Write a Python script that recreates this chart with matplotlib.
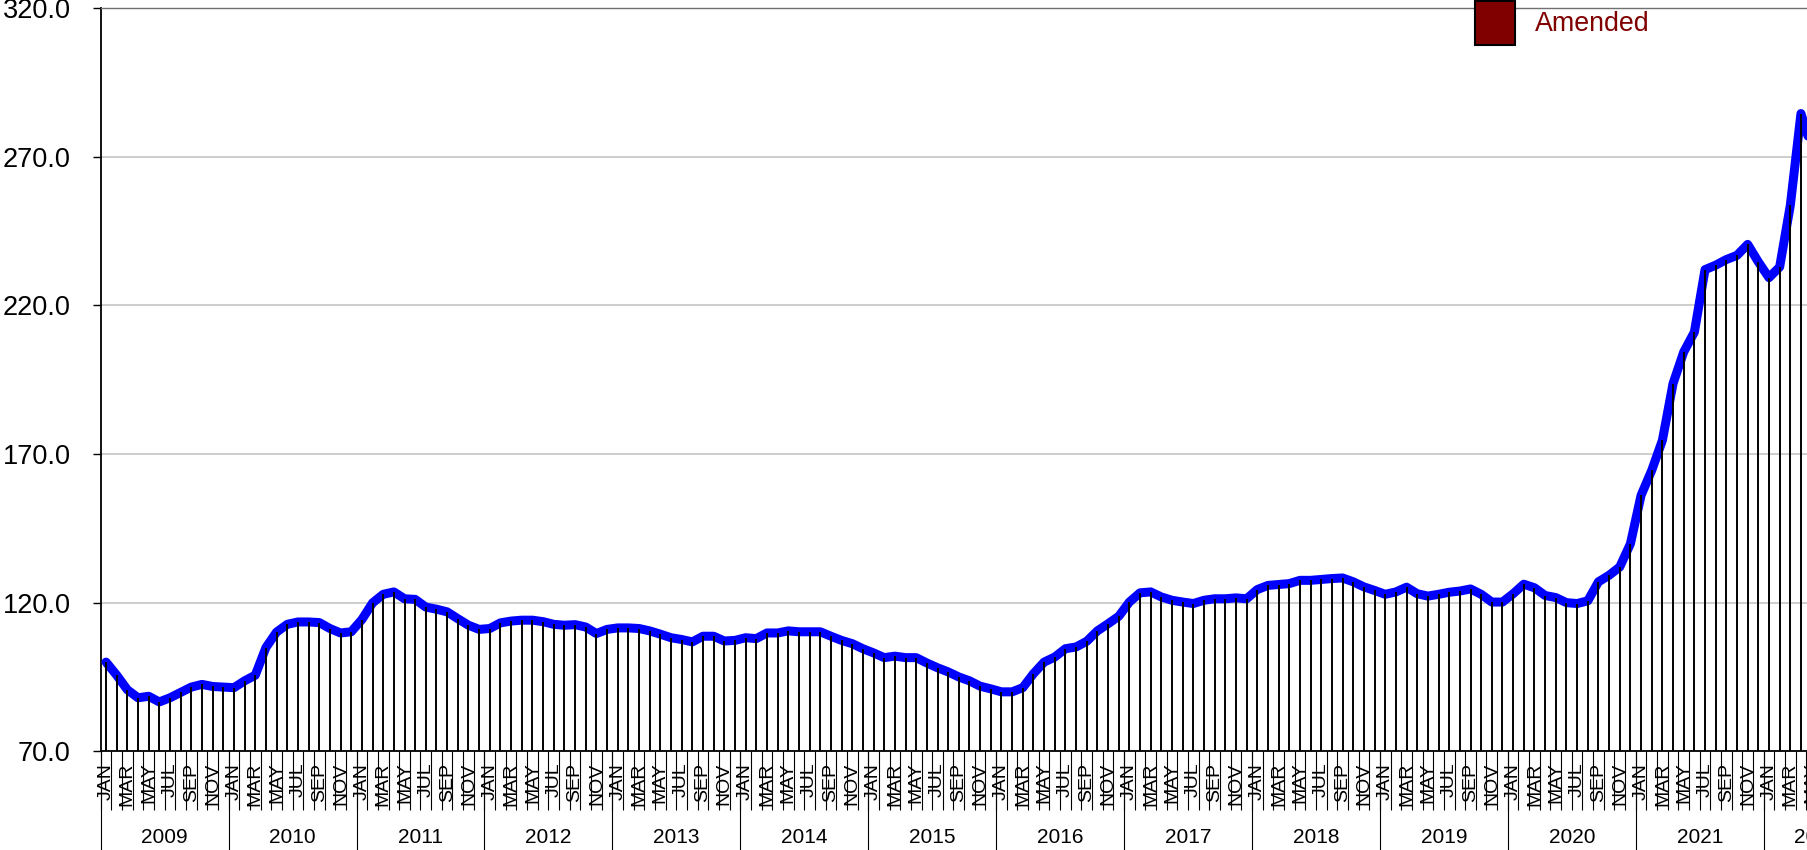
#!/usr/bin/env python3
"""
Monthly index, Jan 2009 - May 2022, blue line with drop lines,
two-level category axis (months / years). Output: out.png
"""
import matplotlib
matplotlib.use("Agg")
import matplotlib.pyplot as plt
from matplotlib.patches import Patch
import numpy as np

plt.rcParams["font.family"] = ["Liberation Sans", "DejaVu Sans"]

MONTHS = ["JAN", "FEB", "MAR", "APR", "MAY", "JUN",
          "JUL", "AUG", "SEP", "OCT", "NOV", "DEC"]
YEARS = list(range(2009, 2023))
N_CATS = 166          # category axis runs Jan 2009 .. Oct 2022 (cropped at right)

v2009 = [100.0, 95.6, 90.7, 88.0, 88.5, 86.6, 88.0, 89.8, 91.6, 92.5, 91.8, 91.6]
v2010 = [91.4, 93.7, 95.6, 104.9, 110.1, 112.7, 113.5, 113.5, 113.3, 111.3, 109.8, 110.2]
v2011 = [114.3, 119.9, 122.8, 123.6, 121.3, 121.1, 118.5, 117.8, 116.9, 114.6, 112.4, 111.0]
v2012 = [111.3, 113.2, 113.8, 114.1, 114.1, 113.6, 112.7, 112.4, 112.6, 111.8, 109.6, 111.0]
v2013 = [111.5, 111.5, 111.3, 110.5, 109.4, 108.2, 107.6, 106.8, 108.7, 108.7, 107.1, 107.3]
v2014 = [108.2, 107.9, 109.8, 109.8, 110.5, 110.2, 110.2, 110.2, 108.7, 107.3, 106.2, 104.5]
v2015 = [103.1, 101.5, 102.0, 101.5, 101.5, 99.7, 98.1, 96.7, 95.0, 93.7, 91.9, 91.0]
v2016 = [90.0, 90.0, 91.4, 96.1, 100.0, 101.7, 104.5, 105.1, 107.0, 110.5, 112.9, 115.4]
v2017 = [120.2, 123.3, 123.6, 121.9, 120.8, 120.2, 119.7, 120.8, 121.3, 121.3, 121.6, 121.3]
v2018 = [124.4, 125.8, 126.1, 126.4, 127.5, 127.5, 127.8, 128.1, 128.3, 127.0, 125.3, 124.1]
v2019 = [122.8, 123.6, 125.2, 123.0, 122.2, 122.8, 123.5, 123.9, 124.6, 122.8, 120.2, 120.2]
v2020 = [123.0, 126.2, 125.0, 122.4, 121.7, 120.0, 119.7, 120.6, 127.0, 129.2, 132.0, 139.8]
v2021 = [156.1, 164.5, 174.6, 193.7, 204.3, 211.0, 232.0, 233.5, 235.4, 236.8, 240.5, 234.6]
v2022 = [229.3, 232.9, 253.6, 284.5, 273.0]

values = np.array(v2009 + v2010 + v2011 + v2012 + v2013 + v2014 + v2015 + v2016
                  + v2017 + v2018 + v2019 + v2020 + v2021 + v2022)
x = np.arange(len(values))

Y_TICKS = [70, 120, 170, 220, 270, 320]

W_PX, H_PX = 1808, 850
MONTH_PX = 10.66
fig = plt.figure(figsize=(W_PX / 100, H_PX / 100), dpi=100)
ax = fig.add_axes([100.7 / W_PX, (H_PX - 751.3) / H_PX,
                   N_CATS * MONTH_PX / W_PX, (751.3 - 8) / H_PX])

ax.set_xlim(-0.5, N_CATS - 0.5)
ax.set_ylim(70, 320)

ax.set_yticks(Y_TICKS)
ax.set_yticklabels([f"{t:.1f}" for t in Y_TICKS])
ax.grid(axis="y", color="#c0c0c0", lw=1.1, zorder=0)
ax.tick_params(axis="y", length=5.8, width=1.0, pad=16.0, labelsize=19.5)

# drop lines on top of the thick line
ax.plot(x, values, color="#0000ff", lw=6.5, solid_joinstyle="round",
        solid_capstyle="round", zorder=3)
ax.vlines(x, 70, values, colors="black", lw=1.4, zorder=4)

# month level of the category axis
maj = np.arange(0, N_CATS, 2)
ax.set_xticks(maj)
ax.set_xticklabels([MONTHS[k % 12] for k in maj], rotation=90, va="top",
                   fontsize=14)
ax.set_xticks(np.arange(-0.5, N_CATS, 1), minor=True)
ax.tick_params(axis="x", which="major", length=0, pad=8.2)
ax.tick_params(axis="x", which="minor", length=42.5, width=0.8, color="black")

# year level
xt = ax.get_xaxis_transform()
for j, yr in enumerate(YEARS):
    start = 12 * j
    end = min(start + 11, N_CATS - 1)
    ax.plot([start - 0.5, start - 0.5], [0, -0.2], transform=xt,
            color="black", lw=0.8, clip_on=False)
    ax.text((start + end) / 2, -0.1153, str(yr), transform=xt, ha="center",
            va="center", fontsize=15, clip_on=False)

for s in ("left", "bottom"):
    ax.spines[s].set_color("black")
    ax.spines[s].set_linewidth(1.3)
ax.spines["top"].set_color("#707070")
ax.spines["top"].set_linewidth(1.0)
ax.spines["right"].set_visible(False)

fig.legend(handles=[Patch(facecolor="#800000", edgecolor="black", lw=1.5,
                          label="Amended")],
           loc="upper left", bbox_to_anchor=(1475 / W_PX, 1 - 1 / H_PX),
           frameon=False, fontsize=19.3, handlelength=1.5, handleheight=2.15,
           handletextpad=0.75, borderpad=0, borderaxespad=0,
           labelcolor="#800000")

fig.savefig("out.png", dpi=100)
plt.close(fig)
